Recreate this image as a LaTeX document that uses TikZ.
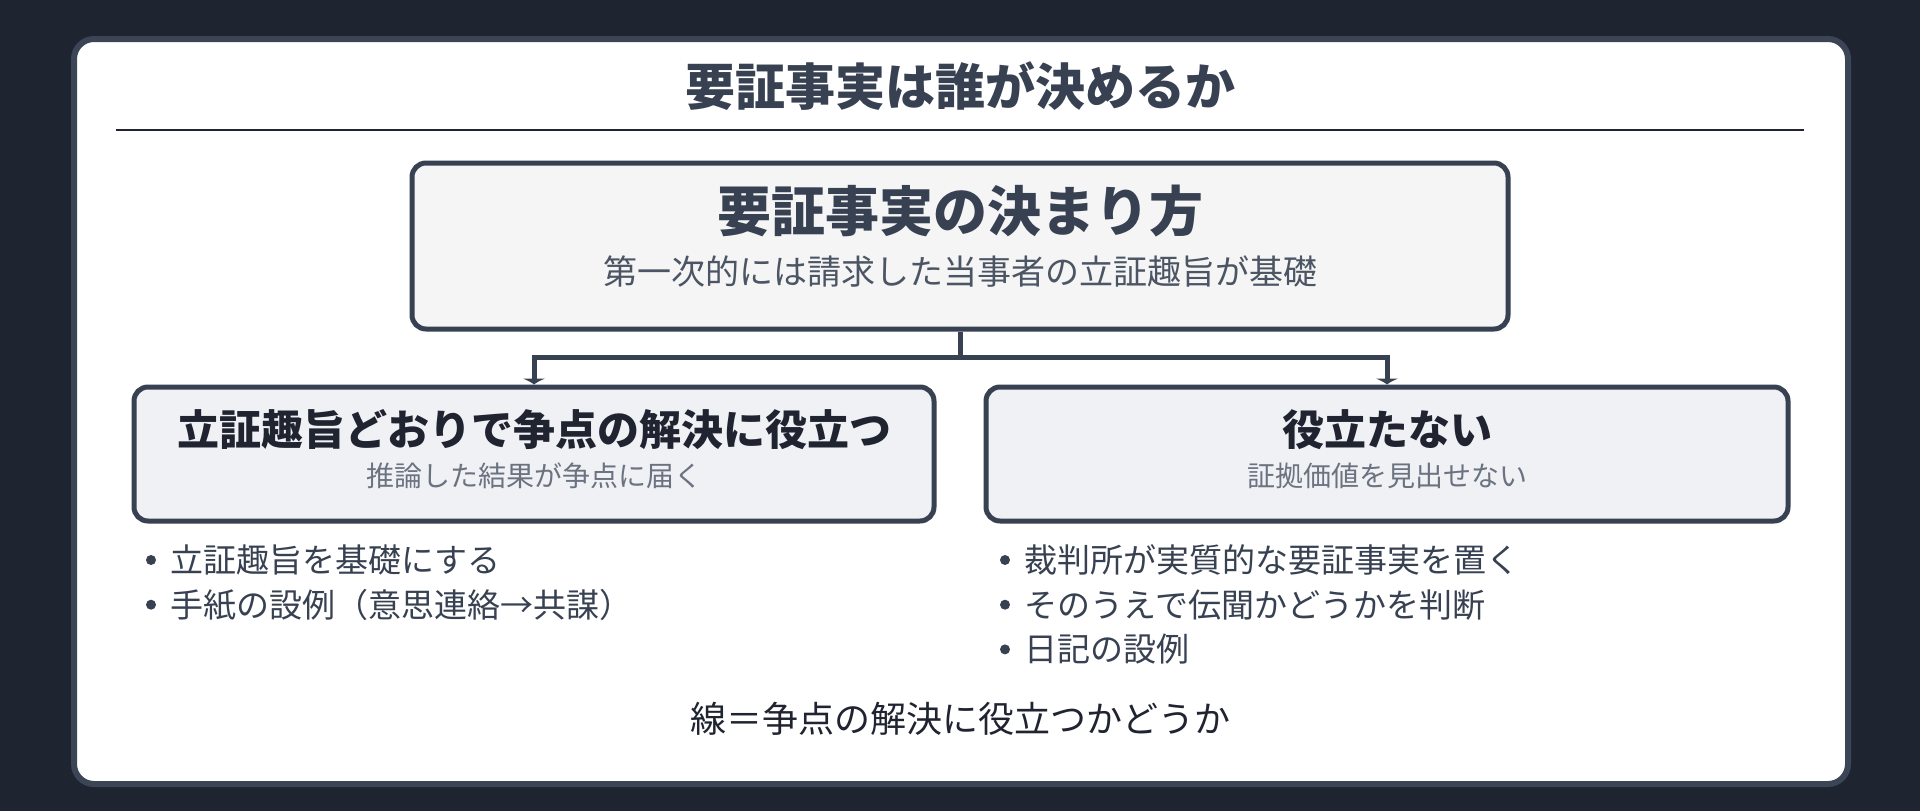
\documentclass[tikz,border=0pt]{standalone}
\usepackage{fontspec}
\setmainfont{Noto Sans CJK JP}
\usetikzlibrary{arrows.meta}

\definecolor{bgdark}{HTML}{1F2530}
\definecolor{frame}{HTML}{3B4556}
\definecolor{ink}{HTML}{374151}
\definecolor{inkdark}{HTML}{1F2430}
\definecolor{subgrey}{HTML}{4B5563}
\definecolor{mutegrey}{HTML}{6B7280}
\definecolor{topfill}{HTML}{F5F5F5}
\definecolor{boxfill}{HTML}{F0F1F5}

\newcommand\setfs[1]{\fontsize{#1}{#1}\selectfont}

\pgfdeclarelayer{back}
\pgfdeclarelayer{links}
\pgfsetlayers{back,links,main}

\begin{document}
\begin{tikzpicture}
  [x=1pt,y=-1pt,every node/.style={inner sep=0pt},
   box/.style={draw=ink,line width=5pt,rounded corners=14pt},
   link/.style={draw=ink,line width=5pt,-{Latex[length=6pt,width=24pt]}},
   dot/.style={circle,fill=ink,minimum size=10pt},
   item/.style={anchor=west,font=\setfs{33},text=ink}]
  \begin{pgfonlayer}{back}
    \fill[bgdark] (0,0) rectangle (1920,811);
    \draw[frame,fill=white,line width=6pt,rounded corners=20pt] (74,39) rectangle (1848,784);
  \end{pgfonlayer}

  % title
  \node[font=\setfs{50}\bfseries,text=ink] (title) at (960,86) {要証事実は誰が決めるか};
  \coordinate (rulel) at (116,130);
  \coordinate (ruler) at (1804,130);
  \draw[inkdark,line width=2.7pt] (rulel) -- (ruler);

  % boxes
  \node[box,fill=topfill,minimum width=1096pt,minimum height=166pt] (top) at (960,246) {};
  \node[font=\setfs{54}\bfseries,text=ink] (toptitle) at (960,211) {要証事実の決まり方};
  \node[font=\setfs{34},text=subgrey] (topsub) at (960,272) {第一次的には請求した当事者の立証趣旨が基礎};

  \node[box,fill=boxfill,minimum width=800pt,minimum height=134pt] (left) at (534,454) {};
  \node[font=\setfs{42}\bfseries,text=inkdark] (lefttitle) at (534,430) {立証趣旨どおりで争点の解決に役立つ};
  \node[font=\setfs{28},text=mutegrey] (leftsub) at (534,476) {推論した結果が争点に届く};

  \node[box,fill=boxfill,minimum width=802pt,minimum height=134pt] (right) at (1387,454) {};
  \node[font=\setfs{42}\bfseries,text=inkdark] (righttitle) at (1387,430) {役立たない};
  \node[font=\setfs{28},text=mutegrey] (rightsub) at (1387,476) {証拠価値を見出せない};

  % links
  \coordinate (split) at (960,357);
  \begin{pgfonlayer}{links}
    \draw[link] (top.south) -- (split) -| (left.north);
    \draw[link] (split) -| (right.north);
  \end{pgfonlayer}

  % lists
  \foreach \txt [count=\i] in {立証趣旨を基礎にする,手紙の設例（意思連絡→共謀）}{
    \node[dot] (ld\i) at (151,560+44.7*\i-44.7) {};
    \node[item] (li\i) at (170,560+44.7*\i-44.7) {\txt};
  }
  \foreach \txt [count=\i] in {裁判所が実質的な要証事実を置く,そのうえで伝聞かどうかを判断,日記の設例}{
    \node[dot] (rd\i) at (1005,560+44.7*\i-44.7) {};
    \node[item] (ri\i) at (1024,560+44.7*\i-44.7) {\txt};
  }

  \node[font=\setfs{36},text=inkdark] (note) at (960,719) {線＝争点の解決に役立つかどうか};
\end{tikzpicture}
\end{document}
